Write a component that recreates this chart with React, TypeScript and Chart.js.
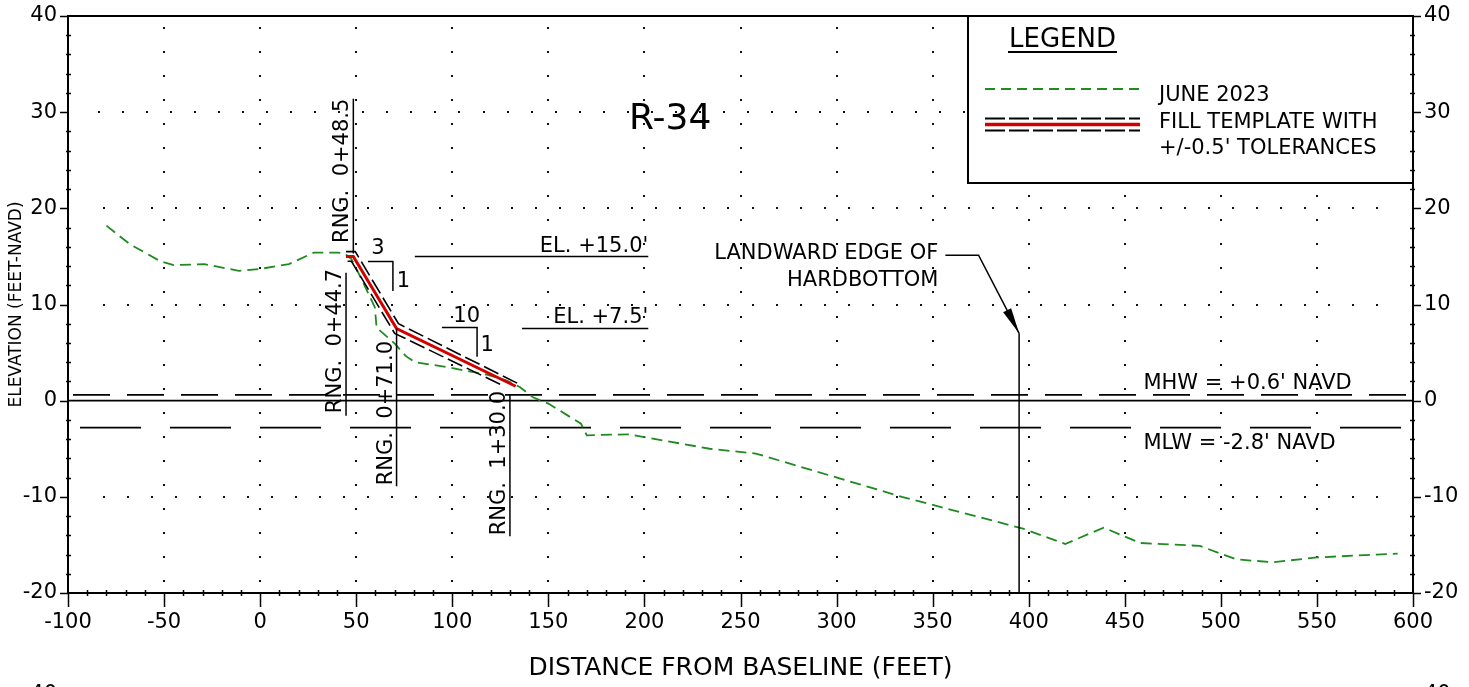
import React, { useEffect, useRef } from "react";
import { Chart, registerables } from "chart.js";

Chart.register(...registerables);

const FONT = "'DejaVu Sans', Verdana, sans-serif";

// ---- axes ----
const X_MIN = -100;
const X_MAX = 600;
const Y_MIN = -20;
const Y_MAX = 40;
const X_TICK_STEP = 50;
const Y_TICK_STEP = 10;
const X_MINOR_STEP = 10;
const Y_MINOR_STEP = 2;

// ---- JUNE 2023 survey profile ----
const PROFILE_X = [-80, -68, -52, -45, -29, -11, 0, 15, 28, 40, 44, 47.6, 53.6, 59.7, 60.6, 70.2, 76, 80.6, 97, 107.5, 118, 128.3, 135.3, 142, 150, 167, 170, 192, 234, 258, 334, 397, 419, 439, 458, 489, 508, 527, 550, 592];
const PROFILE_Y = [18.2, 16.3, 14.5, 14.1, 14.2, 13.5, 13.7, 14.2, 15.4, 15.4, 15.3, 14.7, 12.3, 9.7, 7.6, 5.9, 4.6, 4.0, 3.5, 3.1, 2.7, 2.1, 1.4, 0.35, -0.3, -2.4, -3.6, -3.5, -5.0, -5.5, -10.0, -13.3, -14.9, -13.2, -14.8, -15.1, -16.5, -16.8, -16.3, -15.9];

// ---- fill template and +/-0.5' tolerances ----
const TEMPLATE_X = [44.7, 48.5, 71.0, 133.0];
const TEMPLATE_Y = [15.0, 15.0, 7.5, 1.5];
const TOL_UPPER_X = [44.7, 49.5, 72.0, 136.0];
const TOL_UPPER_Y = [15.5, 15.5, 8.0, 1.6];
const TOL_LOWER_X = [45.5, 47.5, 70.0, 126.0];
const TOL_LOWER_Y = [14.5, 14.5, 7.0, 1.6];

// ---- tidal datums ----
const MHW = 0.6;
const MLW = -2.8;
const DATUM_X = [X_MIN, X_MAX];

// ---- annotations (data coordinates) ----
const RANGE_LINES = [
  { label: "RNG.  0+48.5", x: 48.5, yBottom: 15.3, yTop: 31.4, textY: 16.4 },
  { label: "RNG.  0+44.7", x: 44.7, yBottom: -1.56, yTop: 13.3, textY: -1.3 },
  { label: "RNG.  0+71.0", x: 71.0, yBottom: -8.9, yTop: 7.5, textY: -8.8 },
  { label: "RNG.  1+30.0", x: 130.0, yBottom: -14.1, yTop: 0.7, textY: -14.0 },
];
const ELEVATION_LABELS = [
  { text: "EL. +15.0'", x1: 80.5, x2: 202, y: 15.0, textY: 15.45 },
  { text: "EL. +7.5'", x1: 136.3, x2: 202, y: 7.5, textY: 8.1 },
];
const SLOPE_BRACKETS = [
  { x1: 56.1, x2: 69.1, y1: 14.46, y2: 11.4, run: "3", runX: 61.3, runY: 15.27, rise: "1", riseX: 74.6, riseY: 11.77 },
  { x1: 94.6, x2: 112.9, y1: 7.6, y2: 4.57, run: "10", runX: 107.5, runY: 8.13, rise: "1", riseX: 118.1, riseY: 5.12 },
];
const HARDBOTTOM_X = 395;
const HARDBOTTOM_TOP = 7.0;
const HARDBOTTOM_LEADER = { x1: 356.6, x2: 373.9, y: 15.13 };
const HARDBOTTOM_TEXT = [
  { text: "LANDWARD EDGE OF", x: 353, y: 14.75 },
  { text: "HARDBOTTOM", x: 353, y: 11.94 },
];
const DATUM_LABELS = [
  { text: "MHW = +0.6' NAVD", x: 459.7, y: 1.25 },
  { text: "MLW = -2.8' NAVD", x: 459.7, y: -4.98 },
];
const TITLE = { text: "R-34", x: 213.4, y: 28.3 };
const GRID_ROWS = [
  { y: 30, start: -83.75 },
  { y: 20, start: -81.25 },
  { y: 10, start: -81.25 },
  { y: -10, start: -81.25 },
];
const GRID_COLUMNS = [-50, 0, 50, 100, 150, 200, 250, 300, 350, 400, 450, 500, 550];

const toPoints = (xs: number[], ys: number[]) => xs.map((x, i) => ({ x, y: ys[i] }));

const GREEN = "#1f8a1f";
const RED = "#d40000";

const annotationPlugin = {
  id: "profileAnnotations",
  beforeDatasetsDraw(chart: any) {
    const { ctx, scales } = chart;
    const px = (v: number) => scales.x.getPixelForValue(v);
    const py = (v: number) => scales.y.getPixelForValue(v);
    ctx.save();
    ctx.fillStyle = "#111";
    for (const row of GRID_ROWS) {
      for (let x = row.start; x < X_MAX - 10; x += 12.5) {
        ctx.fillRect(Math.round(px(x)) - 1, Math.round(py(row.y)) - 1, 2, 2);
      }
    }
    for (const gx of GRID_COLUMNS) {
      for (let gy = Y_MIN + 1.25; gy < Y_MAX; gy += 2.5) {
        ctx.fillRect(Math.round(px(gx)) - 1, Math.round(py(gy)) - 1, 2, 2);
      }
    }
    ctx.fillStyle = "#000";
    ctx.font = `36px ${FONT}`;
    ctx.textAlign = "center";
    ctx.textBaseline = "alphabetic";
    ctx.fillText(TITLE.text, px(TITLE.x), py(TITLE.y));
    ctx.restore();
  },
  afterDatasetsDraw(chart: any) {
    const { ctx, scales } = chart;
    const px = (v: number) => scales.x.getPixelForValue(v);
    const py = (v: number) => scales.y.getPixelForValue(v);
    ctx.save();
    ctx.strokeStyle = "#000";
    ctx.fillStyle = "#000";
    ctx.lineWidth = 1.5;
    ctx.setLineDash([]);
    ctx.font = `21px ${FONT}`;
    ctx.textBaseline = "alphabetic";

    // range lines with rotated labels
    for (const r of RANGE_LINES) {
      const x = px(r.x);
      ctx.beginPath();
      ctx.moveTo(x, py(r.yBottom));
      ctx.lineTo(x, py(r.yTop));
      ctx.stroke();
      ctx.save();
      ctx.translate(x - 5, py(r.textY));
      ctx.rotate(-Math.PI / 2);
      ctx.textAlign = "left";
      ctx.fillText(r.label, 0, 0);
      ctx.restore();
    }

    // elevation labels
    for (const e of ELEVATION_LABELS) {
      ctx.beginPath();
      ctx.moveTo(px(e.x1), py(e.y));
      ctx.lineTo(px(e.x2), py(e.y));
      ctx.stroke();
      ctx.textAlign = "right";
      ctx.fillText(e.text, px(e.x2), py(e.textY));
    }

    // slope brackets
    for (const s of SLOPE_BRACKETS) {
      ctx.beginPath();
      ctx.moveTo(px(s.x1), py(s.y1));
      ctx.lineTo(px(s.x2), py(s.y1));
      ctx.lineTo(px(s.x2), py(s.y2));
      ctx.stroke();
      ctx.textAlign = "center";
      ctx.fillText(s.run, px(s.runX), py(s.runY));
      ctx.fillText(s.rise, px(s.riseX), py(s.riseY));
    }

    // landward edge of hardbottom
    const hx = px(HARDBOTTOM_X);
    ctx.beginPath();
    ctx.moveTo(hx, py(HARDBOTTOM_TOP));
    ctx.lineTo(hx, py(Y_MIN));
    ctx.stroke();
    const lx1 = px(HARDBOTTOM_LEADER.x1);
    const lx2 = px(HARDBOTTOM_LEADER.x2);
    const ly = py(HARDBOTTOM_LEADER.y);
    const tipY = py(HARDBOTTOM_TOP);
    ctx.beginPath();
    ctx.moveTo(lx1, ly);
    ctx.lineTo(lx2, ly);
    ctx.lineTo(hx, tipY);
    ctx.stroke();
    const ang = Math.atan2(tipY - ly, hx - lx2);
    const len = 26;
    const hw = 4.5;
    const bx = hx - len * Math.cos(ang);
    const by = tipY - len * Math.sin(ang);
    ctx.beginPath();
    ctx.moveTo(hx, tipY);
    ctx.lineTo(bx + hw * Math.sin(ang), by - hw * Math.cos(ang));
    ctx.lineTo(bx - hw * Math.sin(ang), by + hw * Math.cos(ang));
    ctx.closePath();
    ctx.fill();
    ctx.textAlign = "right";
    for (const t of HARDBOTTOM_TEXT) ctx.fillText(t.text, px(t.x), py(t.y));

    // datum labels
    ctx.textAlign = "left";
    for (const d of DATUM_LABELS) ctx.fillText(d.text, px(d.x), py(d.y));
    ctx.restore();
  },
  afterDraw(chart: any) {
    const { ctx, chartArea: ca, scales } = chart;
    const px = (v: number) => scales.x.getPixelForValue(v);
    const py = (v: number) => scales.y.getPixelForValue(v);
    ctx.save();
    ctx.strokeStyle = "#000";
    ctx.fillStyle = "#000";
    ctx.setLineDash([]);

    // legend box
    const lgL = 968;
    const lgB = 183;
    ctx.fillStyle = "#fff";
    ctx.fillRect(lgL, ca.top, ca.right - lgL, lgB - ca.top);
    ctx.lineWidth = 2;
    ctx.strokeRect(lgL, ca.top, ca.right - lgL, lgB - ca.top);
    ctx.fillStyle = "#000";
    ctx.font = `26px ${FONT}`;
    ctx.textAlign = "left";
    ctx.textBaseline = "alphabetic";
    ctx.fillText("LEGEND", 1009, 47);
    const lw = ctx.measureText("LEGEND").width;
    ctx.beginPath();
    ctx.moveTo(1008, 52);
    ctx.lineTo(1010 + lw, 52);
    ctx.stroke();
    // legend samples
    ctx.lineWidth = 2;
    ctx.strokeStyle = GREEN;
    ctx.setLineDash([10, 6]);
    ctx.beginPath();
    ctx.moveTo(985, 89);
    ctx.lineTo(1140, 89);
    ctx.stroke();
    ctx.strokeStyle = "#000";
    ctx.setLineDash([20, 4]);
    ctx.beginPath();
    ctx.moveTo(985, 118.5);
    ctx.lineTo(1140, 118.5);
    ctx.moveTo(985, 130.5);
    ctx.lineTo(1140, 130.5);
    ctx.stroke();
    ctx.setLineDash([]);
    ctx.strokeStyle = RED;
    ctx.lineWidth = 3.5;
    ctx.beginPath();
    ctx.moveTo(985, 124.5);
    ctx.lineTo(1140, 124.5);
    ctx.stroke();
    ctx.font = `21px ${FONT}`;
    ctx.fillText("JUNE 2023", 1159, 101);
    ctx.fillText("FILL TEMPLATE WITH", 1159, 128);
    ctx.fillText("+/-0.5' TOLERANCES", 1159, 154);

    // frame
    ctx.strokeStyle = "#000";
    ctx.lineWidth = 2;
    ctx.strokeRect(ca.left, ca.top, ca.right - ca.left, ca.bottom - ca.top);

    // tick marks
    ctx.lineWidth = 1.5;
    ctx.beginPath();
    for (let v = X_MIN; v <= X_MAX; v += X_MINOR_STEP) {
      const x = Math.round(px(v)) + 0.5;
      if (v % X_TICK_STEP === 0) {
        ctx.moveTo(x, ca.bottom);
        ctx.lineTo(x, ca.bottom + 14);
      } else {
        ctx.moveTo(x, ca.bottom - 3);
        ctx.lineTo(x, ca.bottom + 3);
      }
    }
    for (let v = Y_MIN; v <= Y_MAX; v += Y_MINOR_STEP) {
      const y = Math.round(py(v)) + 0.5;
      if (v % Y_TICK_STEP === 0) {
        ctx.moveTo(ca.left - 8, y);
        ctx.lineTo(ca.left, y);
        ctx.moveTo(ca.right, y);
        ctx.lineTo(ca.right + 8, y);
      } else {
        ctx.moveTo(ca.left - 2, y);
        ctx.lineTo(ca.left + 3, y);
        ctx.moveTo(ca.right - 3, y);
        ctx.lineTo(ca.right + 2, y);
      }
    }
    ctx.stroke();

    // axis titles
    ctx.fillStyle = "#000";
    ctx.font = `25px ${FONT}`;
    ctx.textAlign = "center";
    ctx.fillText("DISTANCE FROM BASELINE (FEET)", (ca.left + ca.right) / 2, 675);
    ctx.save();
    ctx.translate(20.5, (ca.top + ca.bottom) / 2);
    ctx.rotate(-Math.PI / 2);
    ctx.font = `17px ${FONT}`;
    ctx.textAlign = "center";
    ctx.fillText("ELEVATION (FEET-NAVD)", 0, 0);
    ctx.restore();

    // top of the next sheet's axis labels, cut off by the page edge
    ctx.font = `21px ${FONT}`;
    ctx.textAlign = "right";
    ctx.fillText(String(Y_MAX), ca.left - 11, 700);
    ctx.textAlign = "left";
    ctx.fillText(String(Y_MAX), ca.right + 11, 700);
    ctx.restore();
  },
};

const zeroPadding = (s: any) => {
  s.paddingTop = 0;
  s.paddingBottom = 0;
  s.paddingLeft = 0;
  s.paddingRight = 0;
};

export default function App() {
  const ref = useRef<HTMLCanvasElement>(null);
  useEffect(() => {
    document.body.style.margin = "0";
    const canvas = ref.current;
    if (!canvas) return;
    const tickFont = { family: FONT, size: 21 };
    const chart = new Chart(canvas, {
      type: "line",
      data: {
        datasets: [
          {
            label: "FILL TEMPLATE",
            data: toPoints(TEMPLATE_X, TEMPLATE_Y),
            borderColor: RED,
            borderWidth: 3,
            pointRadius: 0,
            order: 1,
          },
          {
            label: "TOL +0.5",
            data: toPoints(TOL_UPPER_X, TOL_UPPER_Y),
            borderColor: "#000",
            borderWidth: 1.6,
            borderDash: [16, 5],
            pointRadius: 0,
            order: 2,
          },
          {
            label: "TOL -0.5",
            data: toPoints(TOL_LOWER_X, TOL_LOWER_Y),
            borderColor: "#000",
            borderWidth: 1.6,
            borderDash: [16, 5],
            pointRadius: 0,
            order: 2,
          },
          {
            label: "JUNE 2023",
            data: toPoints(PROFILE_X, PROFILE_Y),
            borderColor: GREEN,
            borderWidth: 1.8,
            borderDash: [11, 6],
            pointRadius: 0,
            order: 3,
          },
          {
            label: "MHW",
            data: toPoints(DATUM_X, [MHW, MHW]),
            borderColor: "#000",
            borderWidth: 1.6,
            borderDash: [37, 17],
            borderDashOffset: 49,
            pointRadius: 0,
            order: 10,
          },
          {
            label: "ZERO",
            data: toPoints(DATUM_X, [0, 0]),
            borderColor: "#000",
            borderWidth: 1.6,
            pointRadius: 0,
            order: 10,
          },
          {
            label: "MLW",
            data: toPoints(DATUM_X, [MLW, MLW]),
            borderColor: "#000",
            borderWidth: 1.6,
            borderDash: [61, 29],
            borderDashOffset: 78,
            pointRadius: 0,
            order: 10,
          },
        ],
      },
      options: {
        animation: false,
        responsive: false,
        devicePixelRatio: 1,
        layout: { padding: { top: 16, left: 0, right: 0, bottom: 0 } },
        elements: { line: { tension: 0 } },
        plugins: { legend: { display: false }, tooltip: { enabled: false } },
        scales: {
          x: {
            type: "linear",
            position: "bottom",
            min: X_MIN,
            max: X_MAX,
            grid: { display: false, drawTicks: false },
            border: { display: false },
            ticks: { stepSize: X_TICK_STEP, font: tickFont, color: "#000", padding: 17, maxRotation: 0, autoSkip: false },
            afterFit: (s: any) => {
              s.height = 94;
              zeroPadding(s);
            },
          },
          y: {
            type: "linear",
            position: "left",
            min: Y_MIN,
            max: Y_MAX,
            grid: { display: false, drawTicks: false },
            border: { display: false },
            ticks: { stepSize: Y_TICK_STEP, font: tickFont, color: "#000", padding: 11 },
            afterFit: (s: any) => {
              s.width = 68;
              zeroPadding(s);
            },
          },
          y2: {
            type: "linear",
            position: "right",
            min: Y_MIN,
            max: Y_MAX,
            grid: { display: false, drawTicks: false },
            border: { display: false },
            ticks: { stepSize: Y_TICK_STEP, font: tickFont, color: "#000", padding: 11 },
            afterFit: (s: any) => {
              s.width = 56;
              zeroPadding(s);
            },
          },
        },
      },
      plugins: [annotationPlugin],
    } as any);
    return () => chart.destroy();
  }, []);
  return (
    <div style={{ width: 1469, height: 687 }}>
      <canvas ref={ref} width={1469} height={687} style={{ display: "block" }} />
    </div>
  );
}
